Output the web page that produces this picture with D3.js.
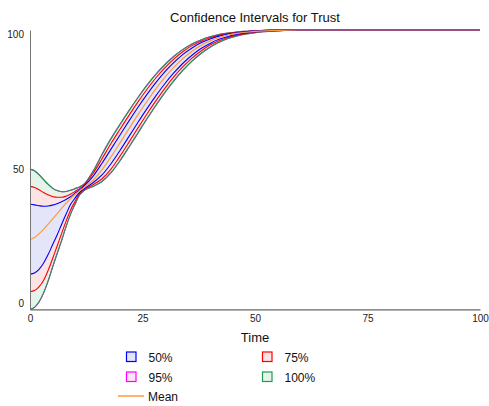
<!DOCTYPE html>
<html>
<head>
<meta charset="utf-8">
<script src="https://cdn.jsdelivr.net/npm/d3@7"></script>
<style>
  html, body { margin: 0; padding: 0; background: #fff; }
  svg { display: block; font-family: "Liberation Sans", Arial, sans-serif; }
</style>
</head>
<body>
<svg id="chart" width="489" height="406"></svg>
<script>
// Simulation time steps
const time = [0,1,2,3,4,5,6,7,8,9,10,11,12,14,16,18,20,22,24,26,28,30,32,34,36,38,40,42,44,46,48,50,55,60,70,80,90,100];

// Mean trust over time
const meanTrust = [25,25.7,27,28.6,30.4,32.3,34.2,36.1,37.9,39.6,41.1,42.4,43.6,46.2,50,54.6,59.6,64.7,69.7,74.5,79,83.1,86.7,89.8,92.4,94.5,96.1,97.3,98.2,98.8,99.2,99.5,99.9,100,100,100,100,100];

// Confidence bounds (upper / lower) for each interval
const upper50 = [37.6,37.4,37.1,36.9,37,37.3,37.8,38.5,39.3,40.3,41.6,42.7,44.1,47.6,52.3,57.35,62.4,67.45,72.35,76.95,81.25,85.1,88.4,91.25,93.55,95.4,96.75,97.8,98.55,99,99.35,99.6,99.95,100,100,100,100,100];
const lower50 = [12.6,13,14.3,16.5,19.5,23,26.5,30.3,34,37.5,39.8,41.9,43.1,45.3,48.1,52.1,56.85,61.9,66.95,71.85,76.5,80.85,84.7,88.1,90.95,93.35,95.2,96.65,97.7,98.45,98.95,99.35,99.8,100,100,100,100,100];
const upper75 = [44,43.6,42.8,41.8,41,40.4,40.1,40.1,40.5,41.2,42.2,43.2,44.5,48.6,53.9,59.35,64.45,69.45,74.25,78.8,82.9,86.5,89.65,92.3,94.4,96,97.25,98.15,98.75,99.2,99.45,99.7,99.95,100,100,100,100,100];
const lower75 = [6.3,6.7,8,10.3,13.8,18,22.5,27,31.5,35.5,38.6,41.4,42.8,44.6,46.75,50.2,54.85,59.85,64.95,69.95,74.7,79.2,83.3,86.85,89.95,92.5,94.6,96.15,97.35,98.25,98.8,99.25,99.75,100,100,100,100,100];
const upper95 = [50.2,49.6,48.2,46.5,44.8,43.4,42.5,42.1,42.2,42.6,43.2,43.8,44.8,49.4,55.45,61.1,66.2,71.15,75.85,80.25,84.2,87.65,90.6,93.05,95,96.45,97.55,98.4,98.9,99.3,99.55,99.75,100,100,100,100,100,100];
const lower95 = [0,0.7,2.6,5.8,10,15,19.8,24.5,29.5,34,37.6,40.9,42.5,44,45.75,48.9,53.2,58.1,63.15,68.2,73.05,77.65,81.85,85.6,88.85,91.6,93.85,95.6,96.95,97.9,98.55,99.05,99.7,100,100,100,100,100];
const upper100 = [50.2,49.6,48.2,46.5,44.8,43.4,42.5,42.1,42.2,42.6,43.2,43.8,44.8,49.4,55.45,61.1,66.2,71.15,75.85,80.25,84.2,87.65,90.6,93.05,95,96.45,97.55,98.4,98.9,99.3,99.55,99.75,100,100,100,100,100,100];
const lower100 = [0,0.7,2.6,5.8,10,15,19.8,24.5,29.5,34,37.6,40.9,42.5,44,45.75,48.9,53.2,58.1,63.15,68.2,73.05,77.65,81.85,85.6,88.85,91.6,93.85,95.6,96.95,97.9,98.55,99.05,99.7,100,100,100,100,100];

const xTicks = [0, 25, 50, 75, 100];
const yTicks = [0, 50, 100];

// Bands in drawing order (widest first so narrower ones sit on top)
const bands = [
  { name: "95%",  upper: upper95,  lower: lower95,  stroke: "#ff00ff", fill: "#fbe3fb" },
  { name: "100%", upper: upper100, lower: lower100, stroke: "#22994f", fill: "#e6f3eb" },
  { name: "75%",  upper: upper75,  lower: lower75,  stroke: "#ff0000", fill: "#fde4e4" },
  { name: "50%",  upper: upper50,  lower: lower50,  stroke: "#0000ff", fill: "#e5e5fa" }
];
const meanColor = "#ff9a3c";

const svg = d3.select("#chart");
const margin = { left: 30, right: 9, top: 30, bottom: 97 };
const W = 489, H = 406;

const x = d3.scaleLinear().domain([0, 100]).range([margin.left, W - margin.right]);
const y = d3.scaleLinear().domain([0, 100]).range([H - margin.bottom + 0.3, margin.top]);

const area = (b) => d3.area()
  .x((d, i) => x(time[i]))
  .y0((d, i) => y(b.lower[i]))
  .y1((d, i) => y(b.upper[i]))
  .curve(d3.curveMonotoneX);
const line = d3.line()
  .x((d, i) => x(time[i]))
  .y(d => y(d))
  .curve(d3.curveMonotoneX);

const plot = svg.append("g");

// Band fills
bands.forEach(b => {
  plot.append("path").datum(time).attr("d", area(b)).attr("fill", b.fill);
});
// Band edges
bands.forEach(b => {
  [b.upper, b.lower].forEach(vals => {
    plot.append("path").datum(vals).attr("d", line)
      .attr("fill", "none").attr("stroke", b.stroke).attr("stroke-width", 1.1);
  });
});
// Mean line
plot.append("path").datum(meanTrust).attr("d", line)
  .attr("fill", "none").attr("stroke", meanColor).attr("stroke-width", 1.2);

// Axes
const xAxis = d3.axisBottom(x).tickValues(xTicks).tickSize(0).tickPadding(6);
const gx = svg.append("g").attr("transform", `translate(0,${y(0)})`).call(xAxis);
gx.select(".domain").attr("stroke", "#666").attr("stroke-width", 1.2);
gx.selectAll("text").attr("font-size", 10).attr("font-family", "Liberation Sans, Arial, sans-serif").attr("fill", "#222");

const yAxis = d3.axisLeft(y).tickValues(yTicks).tickSize(0).tickPadding(6);
const gy = svg.append("g").attr("transform", `translate(${x(0)},0)`).call(yAxis);
gy.select(".domain").attr("stroke", "#777").attr("stroke-width", 1);
gy.selectAll("text").attr("font-size", 10).attr("font-family", "Liberation Sans, Arial, sans-serif").attr("fill", "#222")
  .attr("dy", d => d === 0 ? "-0.25em" : d === 100 ? "0.75em" : "0.32em");

// Title and axis label
svg.append("text").attr("x", (x(0) + x(100)) / 2).attr("y", 22)
  .attr("text-anchor", "middle").attr("font-size", 13).attr("fill", "#111")
  .text("Confidence Intervals for Trust");
svg.append("text").attr("x", (x(0) + x(100)) / 2).attr("y", 342)
  .attr("text-anchor", "middle").attr("font-size", 13).attr("fill", "#111")
  .text("Time");

// Legend
const legendItems = [
  { label: "50%",  band: bands[3], col: 0, row: 0 },
  { label: "75%",  band: bands[2], col: 1, row: 0 },
  { label: "95%",  band: bands[0], col: 0, row: 1 },
  { label: "100%", band: bands[1], col: 1, row: 1 }
];
const legend = svg.append("g");
const colX = [126.5, 262.5], rowY = [352, 372];
legendItems.forEach(it => {
  const g = legend.append("g").attr("transform", `translate(${colX[it.col]},${rowY[it.row]})`);
  g.append("rect").attr("x", 0).attr("y", 0).attr("width", 9.5).attr("height", 9.5)
    .attr("fill", it.band.fill).attr("stroke", it.band.stroke).attr("stroke-width", 1.2);
  g.append("text").attr("x", 22).attr("y", 9.5).attr("font-size", 12).attr("fill", "#111").text(it.label);
});
const meanG = legend.append("g").attr("transform", "translate(118,396)");
meanG.append("line").attr("x1", 0).attr("x2", 26).attr("y1", 0).attr("y2", 0)
  .attr("stroke", meanColor).attr("stroke-width", 1.5);
meanG.append("text").attr("x", 30).attr("y", 4.5).attr("font-size", 12).attr("fill", "#111").text("Mean");
</script>
</body>
</html>
